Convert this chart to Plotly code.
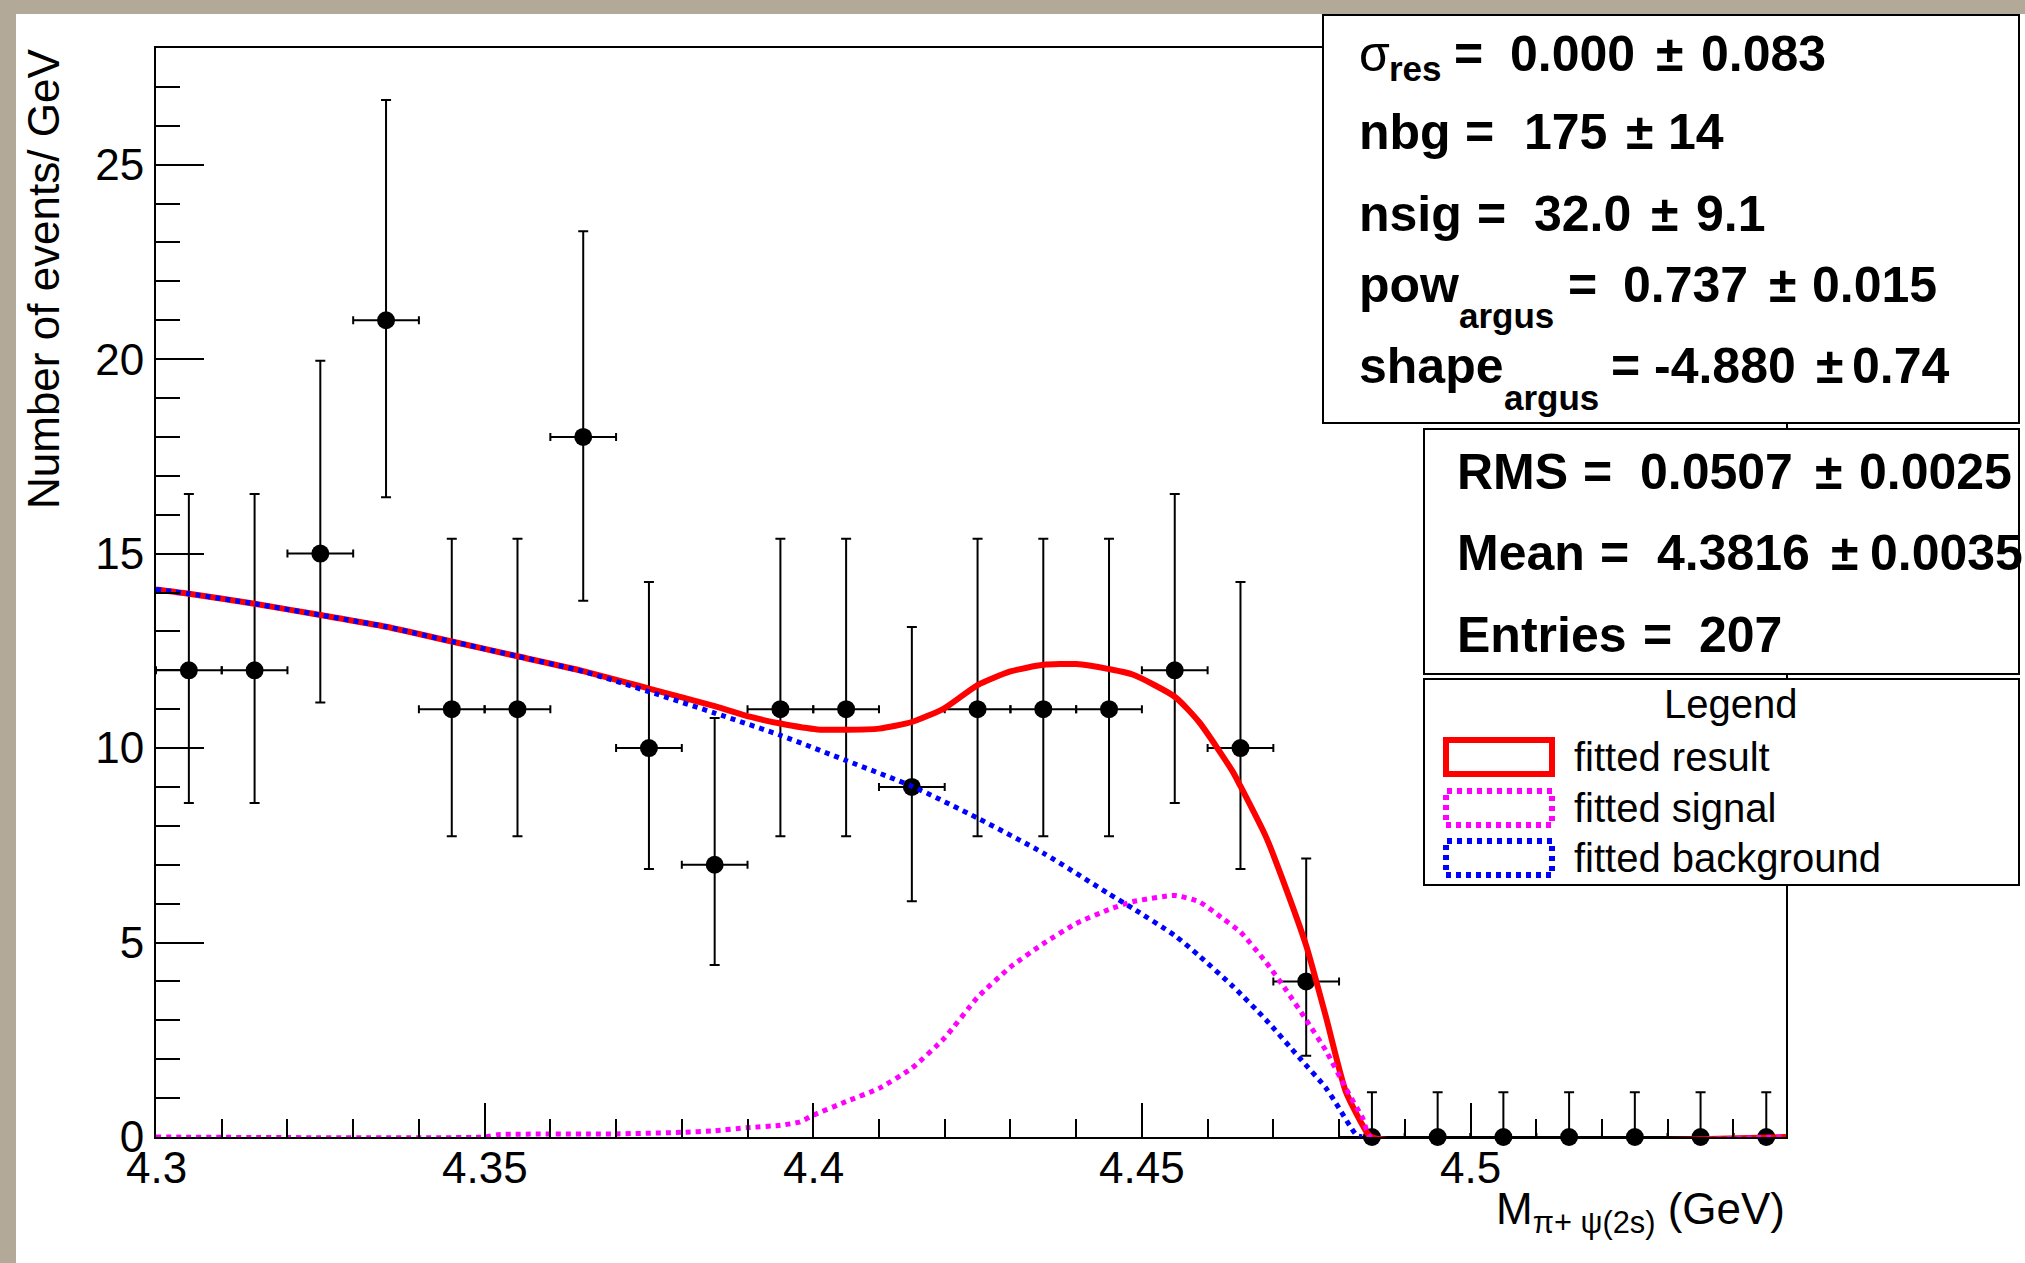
import plotly.graph_objects as go

# ---------------- binned data (events per bin) ----------------
bin_centers = [4.305, 4.315, 4.325, 4.335, 4.345, 4.355, 4.365, 4.375, 4.385, 4.395,
               4.405, 4.415, 4.425, 4.435, 4.445, 4.455, 4.465, 4.475, 4.485, 4.495,
               4.505, 4.515, 4.525, 4.535, 4.545]
counts = [12, 12, 15, 21, 11, 11, 18, 10, 7, 11,
          11, 9, 11, 11, 11, 12, 10, 4, 0, 0,
          0, 0, 0, 0, 0]
# asymmetric Poisson errors
err_up = [4.53, 4.53, 4.96, 5.66, 4.38, 4.38, 5.29, 4.27, 3.77, 4.38,
          4.38, 4.11, 4.38, 4.38, 4.38, 4.53, 4.27, 3.16, 1.15, 1.15,
          1.15, 1.15, 1.15, 1.15, 1.15]
err_down = [3.41, 3.41, 3.83, 4.55, 3.27, 3.27, 4.21, 3.11, 2.58, 3.27,
            3.27, 2.94, 3.27, 3.27, 3.27, 3.41, 3.11, 1.91, 0, 0,
            0, 0, 0, 0, 0]
bin_half_width = 0.005

# ---------------- fitted curves ----------------
total_mass = [4.300, 4.305, 4.315, 4.325, 4.335, 4.345, 4.355, 4.365, 4.375, 4.385,
              4.3905, 4.395, 4.4006, 4.405, 4.410, 4.415, 4.420, 4.425, 4.430, 4.435,
              4.440, 4.445, 4.4486, 4.455, 4.4587, 4.4638, 4.465, 4.4689, 4.4719, 4.475,
              4.478, 4.481, 4.4836, 4.4849, 4.548]
total_fit = [14.08, 13.97, 13.71, 13.42, 13.12, 12.74, 12.36, 11.98, 11.53, 11.08,
             10.80, 10.63, 10.48, 10.47, 10.50, 10.67, 11.03, 11.62, 11.97, 12.14,
             12.16, 12.03, 11.89, 11.32, 10.67, 9.40, 9.02, 7.71, 6.40, 4.92,
             3.09, 1.18, 0.30, 0.0, 0.0]

signal_mass = [4.300, 4.350, 4.352, 4.370, 4.380, 4.385, 4.390, 4.395, 4.398, 4.400,
               4.405, 4.410, 4.415, 4.420, 4.425, 4.430, 4.435, 4.440, 4.445, 4.4486,
               4.455, 4.4587, 4.4623, 4.465, 4.4689, 4.4719, 4.475, 4.478, 4.481, 4.4836,
               4.4848, 4.548]
signal_fit = [0.0, 0.0, 0.06, 0.08, 0.12, 0.16, 0.24, 0.30, 0.39, 0.56,
              0.91, 1.25, 1.77, 2.55, 3.59, 4.37, 4.97, 5.49, 5.85, 6.05,
              6.21, 6.05, 5.62, 5.27, 4.49, 3.79, 3.01, 2.22, 1.26, 0.48,
              0.0, 0.0]

background_mass = [4.300, 4.305, 4.315, 4.325, 4.335, 4.345, 4.355, 4.365, 4.375, 4.385,
                   4.395, 4.405, 4.415, 4.425, 4.435, 4.445, 4.4486, 4.455, 4.4587, 4.4638,
                   4.4689, 4.4739, 4.478, 4.480, 4.4816, 4.4827, 4.4835]
background_fit = [14.08, 13.97, 13.71, 13.42, 13.12, 12.74, 12.36, 11.97, 11.45, 10.90,
                  10.33, 9.68, 9.02, 8.20, 7.30, 6.25, 5.88, 5.18, 4.66, 3.88,
                  3.01, 2.05, 1.26, 0.74, 0.30, 0.04, 0.0]

# ---------------- axes ----------------
x_range = [4.3, 4.548]
y_range = [0, 28]
x_tick_vals = [4.3, 4.35, 4.4, 4.45, 4.5]
x_tick_text = ["4.3", "4.35", "4.4", "4.45", "4.5"]
y_tick_vals = [0, 5, 10, 15, 20, 25]
y_tick_text = ["0", "5", "10", "15", "20", "25"]

# ---------------- fit results / statistics text ----------------
fit_lines = [
    # (main pieces, subscript, main centre y, subscript centre y)
    ([("σ", 1358), ("=", 1453), ("0.000", 1509), ("±", 1655), ("0.083", 1700)], ("res", 1388), 54, 68),
    ([("nbg", 1358), ("=", 1464), ("175", 1523), ("±", 1625), ("14", 1667)], None, 132, 0),
    ([("nsig", 1358), ("=", 1476), ("32.0", 1533), ("±", 1650), ("9.1", 1695)], None, 214, 0),
    ([("pow", 1358), ("=", 1567), ("0.737", 1622), ("±", 1768), ("0.015", 1811)], ("argus", 1458), 285, 316),
    ([("shape", 1358), ("=", 1610), ("-4.880", 1653), ("±", 1815), ("0.74", 1851)], ("argus", 1503), 366, 397),
]
stat_lines = [
    ([("RMS", 1456), ("=", 1582), ("0.0507", 1639), ("±", 1814), ("0.0025", 1858)], 472),
    ([("Mean", 1456), ("=", 1599), ("4.3816", 1656), ("±", 1830), ("0.0035", 1869)], 553),
    ([("Entries", 1456), ("=", 1642), ("207", 1698)], 635),
]
legend_title = "Legend"
legend_labels = ["fitted result", "fitted signal", "fitted background"]
legend_colors = ["#ff0000", "#ff00ff", "#0000ff"]

FONT = "Liberation Sans, Arial, Helvetica, sans-serif"
W, H = 2025, 1263
L, R, T, B = 156, 1786, 48, 1137   # frame in pixels
DOT = "5px,5px"


def px(x):
    return (x - L) / (R - L)


def py(y):
    return (B - y) / (B - T)


fig = go.Figure()

fig.add_trace(go.Scatter(
    x=bin_centers, y=counts, mode="markers",
    marker=dict(color="black", size=18),
    error_y=dict(type="data", symmetric=False, array=err_up, arrayminus=err_down,
                 color="black", thickness=2, width=5),
    error_x=dict(type="constant", value=bin_half_width, color="black", thickness=2, width=4),
    cliponaxis=False, showlegend=False,
))
fig.add_trace(go.Scatter(
    x=total_mass, y=total_fit, mode="lines",
    line=dict(color="#ff0000", width=6, shape="spline", smoothing=0.6),
    showlegend=False,
))
fig.add_trace(go.Scatter(
    x=signal_mass, y=signal_fit, mode="lines",
    line=dict(color="#ff00ff", width=5, dash=DOT, shape="spline", smoothing=0.5),
    showlegend=False,
))
fig.add_trace(go.Scatter(
    x=background_mass, y=background_fit, mode="lines",
    line=dict(color="#0000ff", width=5, dash=DOT, shape="spline", smoothing=0.6),
    showlegend=False,
))

shapes = [
    # white canvas over the textured page
    dict(type="rect", xref="paper", yref="paper", x0=px(16), x1=px(W + 5), y0=py(H + 5), y1=py(14),
         fillcolor="white", line=dict(width=0), layer="below"),
    # statistics boxes
    dict(type="rect", xref="paper", yref="paper", x0=px(1323), x1=px(2019), y0=py(423), y1=py(15),
         fillcolor="white", line=dict(color="black", width=2), layer="above"),
    dict(type="rect", xref="paper", yref="paper", x0=px(1424), x1=px(2019), y0=py(674), y1=py(429),
         fillcolor="white", line=dict(color="black", width=2), layer="above"),
    dict(type="rect", xref="paper", yref="paper", x0=px(1424), x1=px(2019), y0=py(885), y1=py(679),
         fillcolor="white", line=dict(color="black", width=2), layer="above"),
]
legend_rows = [757, 808, 858]
for i, (lab, col) in enumerate(zip(legend_labels, legend_colors)):
    yc = legend_rows[i]
    shapes.append(dict(type="rect", xref="paper", yref="paper",
                       x0=px(1446), x1=px(1552), y0=py(yc + 17), y1=py(yc - 17),
                       fillcolor="rgba(0,0,0,0)", layer="above",
                       line=dict(color=col, width=6, dash="solid" if i == 0 else DOT)))

ann = []


def text(t, x, y, size, bold=False, anchor="left", angle=0):
    ann.append(dict(text=f"<b>{t}</b>" if bold else t, xref="paper", yref="paper",
                    x=px(x), y=py(y), xanchor=anchor, yanchor="middle", showarrow=False,
                    textangle=angle, font=dict(family=FONT, size=size, color="black"),
                    borderpad=0))


for pieces, sub, yc, ysub in fit_lines:
    for t, x in pieces:
        text(t, x, yc, 50, bold=(t != "σ"))
    if sub:
        text(sub[0], sub[1], ysub, 35, bold=True)
for pieces, yc in stat_lines:
    for t, x in pieces:
        text(t, x, yc, 50, bold=True)

text(legend_title, 1730, 704, 40, anchor="center")
for lab, yc in zip(legend_labels, legend_rows):
    text(lab, 1573, yc, 40)

# x tick labels placed just under the frame
for v, lab in zip(x_tick_vals, x_tick_text):
    ann.append(dict(text=lab, xref="x", yref="paper", x=v, y=py(1167),
                    xanchor="center", yanchor="middle", showarrow=False,
                    font=dict(family=FONT, size=44, color="black"), borderpad=0))

text("Number of events/ GeV", 43, 279, 44, anchor="center", angle=-90)
ann.append(dict(text="M<sub>π+ ψ(2s)</sub> (GeV)", xref="paper", yref="paper",
                x=1.0, y=py(1212), xanchor="right", yanchor="middle", showarrow=False,
                font=dict(family=FONT, size=44, color="black"), borderpad=0))

axis_common = dict(showline=True, linecolor="black", linewidth=2, mirror=True,
                   ticks="inside", tickcolor="black", tickwidth=2,
                   showgrid=False, zeroline=False,
                   tickfont=dict(family=FONT, size=44, color="black"))

fig.update_layout(
    width=W, height=H, autosize=False,
    margin=dict(l=L, r=W - R, t=T, b=H - B, pad=0),
    paper_bgcolor="#b2a998", plot_bgcolor="white",
    shapes=shapes, annotations=ann, showlegend=False,
    xaxis=dict(range=x_range, tickmode="array", tickvals=x_tick_vals, ticktext=x_tick_text,
               ticklen=34, showticklabels=False,
               minor=dict(tickmode="linear", tick0=4.3, dtick=0.01, ticks="inside",
                          ticklen=18, tickwidth=2, tickcolor="black"),
               **axis_common),
    yaxis=dict(range=y_range, tickmode="array", tickvals=y_tick_vals, ticktext=y_tick_text,
               ticklen=48, ticklabelstandoff=1,
               minor=dict(tickmode="linear", tick0=0, dtick=1, ticks="inside",
                          ticklen=24, tickwidth=2, tickcolor="black"),
               **axis_common),
)

fig.write_html("out.html")
